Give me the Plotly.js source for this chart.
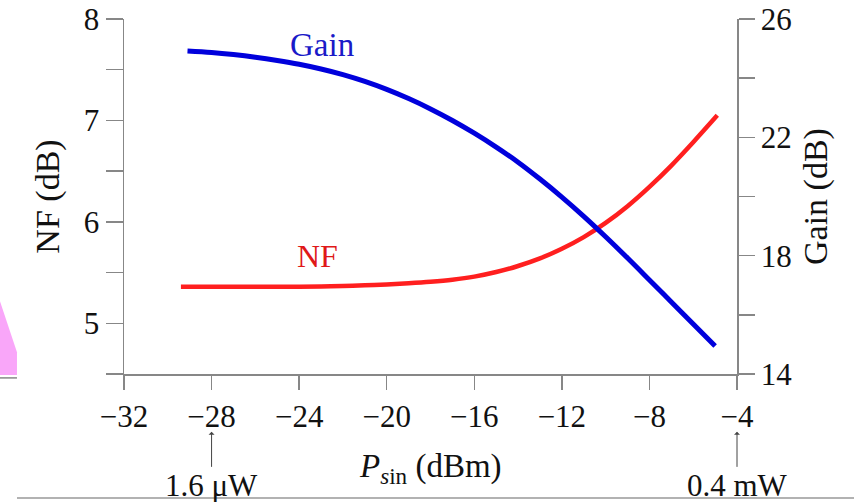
<!DOCTYPE html>
<html>
<head>
<meta charset="utf-8">
<script src="https://cdn.plot.ly/plotly-3.0.1.min.js"></script>
<style>html,body{margin:0;padding:0;background:#fff;}#chart{width:854px;height:502px;}</style>
</head>
<body>
<div id="chart"></div>
<script>
// Input signal power (dBm) and NF (dB)
const nfX = [-29.4, -28, -27, -26, -25, -24, -23, -22, -21, -20, -19, -18, -17, -16, -15, -14, -13, -12, -11, -10, -9, -8, -7, -6, -4.9];
const nfY = [5.36, 5.36, 5.36, 5.36, 5.36, 5.36, 5.362, 5.367, 5.374, 5.383, 5.395, 5.41, 5.43, 5.46, 5.505, 5.565, 5.64, 5.735, 5.85, 5.99, 6.155, 6.345, 6.555, 6.785, 7.05];
// Input signal power (dBm) and Gain (dB)
const gainX = [-29.1, -28, -27, -26, -25, -24, -23, -22, -21, -20, -19, -18, -17, -16, -15, -14, -13, -12, -11, -10, -9, -8, -7, -6, -5];
const gainY = [24.92, 24.87, 24.80, 24.71, 24.60, 24.47, 24.31, 24.12, 23.89, 23.62, 23.31, 22.96, 22.57, 22.14, 21.67, 21.16, 20.59, 19.98, 19.33, 18.64, 17.92, 17.18, 16.435, 15.69, 14.945];
// tick labels
const xTicks = [-32, -28, -24, -20, -16, -12, -8, -4];
const nfTicks = [5, 6, 7, 8];
const gainTicks = [14, 18, 22, 26];
const powerNotes = [{x: -28, text: '1.6 μW'}, {x: -4, text: '0.4 mW'}];

const serif = 'Liberation Serif, Times New Roman, serif';
const axisGray = '#878787';

const traces = [
  {x: gainX, y: gainY, yaxis: 'y2', mode: 'lines', line: {color: '#0000dc', width: 5, shape: 'spline', smoothing: 1}, name: 'Gain', showlegend: false, hoverinfo: 'skip'},
  {x: nfX, y: nfY, yaxis: 'y', mode: 'lines', line: {color: '#ff1f1f', width: 4.5, shape: 'spline', smoothing: 1}, name: 'NF', showlegend: false, hoverinfo: 'skip'}
];

const tickFont = {family: serif, size: 31, color: '#111'};

const annotations = [
  {x: -22.97, y: 25.12, xref: 'x', yref: 'y2', text: 'Gain', showarrow: false, font: {family: serif, size: 33, color: '#1a1ac8'}, xanchor: 'center', yanchor: 'middle'},
  {x: -23.15, y: 5.66, xref: 'x', yref: 'y', text: 'NF', showarrow: false, font: {family: serif, size: 32, color: '#e01818'}, xanchor: 'center', yanchor: 'middle'},
  {x: -18, y: -0.265, xref: 'x', yref: 'paper', text: '<i>P</i><sub><i>s</i>in</sub> (dBm)', showarrow: false, font: {family: serif, size: 33, color: '#111'}, xanchor: 'center', yanchor: 'middle'}
];
powerNotes.forEach(n => annotations.push({
  x: n.x, y: -0.163, xref: 'x', yref: 'paper', text: n.text, showarrow: true,
  ax: 0, ay: 54, arrowhead: 1, arrowsize: 1, arrowwidth: 1, arrowcolor: '#444', standoff: 0,
  font: {family: serif, size: 31, color: '#111'}
}));

const layout = {
  width: 854, height: 502,
  margin: {l: 124, r: 117, t: 19, b: 128, pad: 0},
  paper_bgcolor: '#fff', plot_bgcolor: '#fff',
  showlegend: false,
  xaxis: {
    range: [-32, -4], tickvals: xTicks, ticktext: xTicks.map(v => (v < 0 ? '\u2212' + Math.abs(v) : String(v))),
    showgrid: false, zeroline: false, showline: true, linecolor: axisGray, linewidth: 1.5,
    ticks: 'outside', ticklen: 14, tickwidth: 1.5, tickcolor: axisGray, tickfont: tickFont,
    ticklabeloverflow: 'allow', fixedrange: true
  },
  yaxis: {
    range: [4.5, 8], tickvals: nfTicks,
    showgrid: false, zeroline: false, showline: true, linecolor: axisGray, linewidth: 1.5,
    ticks: 'outside', ticklen: 17, tickwidth: 1.5, tickcolor: axisGray, tickfont: tickFont,
    ticklabeloverflow: 'allow',
    minor: {dtick: 0.5, tick0: 4.5, ticks: 'outside', ticklen: 17, tickwidth: 1.5, tickcolor: axisGray},
    title: {text: 'NF (dB)', font: {family: serif, size: 34, color: '#111'}, standoff: 14},
    fixedrange: true
  },
  yaxis2: {
    overlaying: 'y', side: 'right', range: [14, 26], tickvals: gainTicks,
    showgrid: false, zeroline: false, showline: true, linecolor: axisGray, linewidth: 1.5,
    ticks: 'outside', ticklen: 16, tickwidth: 1.5, tickcolor: axisGray, tickfont: tickFont,
    ticklabeloverflow: 'allow',
    minor: {dtick: 2, tick0: 14, ticks: 'outside', ticklen: 16, tickwidth: 1.5, tickcolor: axisGray},
    title: {text: 'Gain (dB)', font: {family: serif, size: 34, color: '#111'}, standoff: 12},
    fixedrange: true
  },
  annotations: annotations,
  shapes: [
    {type: 'path', xref: 'paper', yref: 'paper', path: 'M -0.2023 0.205 L -0.1746 0.061 L -0.1746 -0.003 L -0.2023 -0.003 Z', fillcolor: '#f9a6f9', line: {width: 0}},
    {type: 'line', xref: 'paper', yref: 'paper', x0: -0.2023, x1: -0.1746, y0: -0.011, y1: -0.011, line: {color: '#888', width: 1.5}},
    {type: 'line', xref: 'paper', yref: 'paper', x0: -0.1746, x1: 1.2, y0: -0.349, y1: -0.349, line: {color: '#999', width: 1.5}}
  ]
};

Plotly.newPlot('chart', traces, layout, {staticPlot: true, displayModeBar: false});
</script>
</body>
</html>
